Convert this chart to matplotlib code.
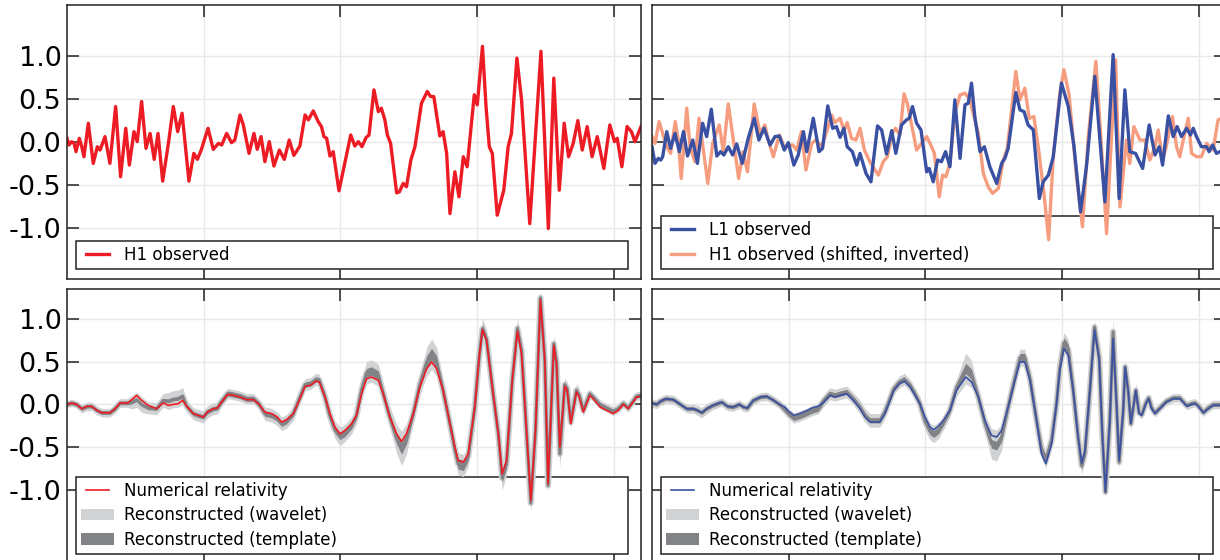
import numpy as np
import matplotlib
matplotlib.use('Agg')
import matplotlib.pyplot as plt

plt.rcParams['font.family'] = ['DejaVu Sans']
plt.rcParams['axes.unicode_minus'] = False
plt.rcParams['lines.solid_joinstyle'] = 'round'

# ---- H1 observed (top left), time in s, strain in 1e-21 ----
h1_t = [0.2500, 0.2507, 0.2517, 0.2526, 0.2533, 0.2545, 0.2554, 0.2562, 0.2578, 0.2596,
        0.2611, 0.2621, 0.2639, 0.2657, 0.2678, 0.2696, 0.2715, 0.2728, 0.2745, 0.2757,
        0.2773, 0.2789, 0.2804, 0.2819, 0.2833, 0.2850, 0.2871, 0.2889, 0.2905, 0.2921,
        0.2946, 0.2964, 0.2977, 0.2991, 0.3016, 0.3035, 0.3054, 0.3066, 0.3084, 0.3102,
        0.3114, 0.3133, 0.3145, 0.3166, 0.3184, 0.3196, 0.3210, 0.3224, 0.3240, 0.3257,
        0.3277, 0.3295, 0.3313, 0.3330, 0.3352, 0.3371, 0.3383, 0.3401, 0.3419, 0.3431,
        0.3440, 0.3450, 0.3462, 0.3474, 0.3495, 0.3511, 0.3538, 0.3553, 0.3566, 0.3579,
        0.3594, 0.3605, 0.3623, 0.3639, 0.3650, 0.3663, 0.3672, 0.3684, 0.3706, 0.3716,
        0.3730, 0.3742, 0.3758, 0.3773, 0.3797, 0.3818, 0.3830, 0.3842, 0.3864, 0.3876,
        0.3889, 0.3901, 0.3919, 0.3934, 0.3950, 0.3964, 0.3990, 0.4001, 0.4020, 0.4033,
        0.4045, 0.4056, 0.4074, 0.4098, 0.4114, 0.4126, 0.4146, 0.4163, 0.4193, 0.4234,
        0.4261, 0.4281, 0.4301, 0.4319, 0.4335, 0.4352, 0.4369, 0.4385, 0.4403, 0.4421,
        0.4440, 0.4464, 0.4486, 0.4503, 0.4513, 0.4530, 0.4549, 0.4565, 0.4578, 0.4600]
h1_v = [0.043, -0.035, 0.004, -0.016, -0.113, 0.043, -0.055, -0.172, 0.219, -0.250,
        -0.055, -0.094, 0.063, -0.250, 0.414, -0.406, 0.160, -0.270, 0.121, 0.004,
        0.473, -0.074, 0.100, -0.203, 0.100, -0.457, -0.016, 0.414, 0.121, 0.336,
        -0.457, -0.133, -0.203, -0.094, 0.160, -0.086, -0.016, -0.035, 0.100, -0.008,
        0.023, 0.316, 0.200, -0.133, 0.100, -0.086, 0.063, -0.230, 0.004, -0.281,
        -0.094, -0.203, 0.023, -0.156, -0.047, 0.316, 0.258, 0.363, 0.238, 0.180,
        0.063, 0.043, -0.164, -0.113, -0.570, -0.328, 0.082, -0.047, 0.004, -0.055,
        0.051, 0.082, 0.609, 0.355, 0.395, 0.258, 0.082, -0.016, -0.594, -0.582,
        -0.484, -0.523, -0.211, -0.055, 0.453, 0.590, 0.531, 0.531, 0.070, 0.121,
        -0.133, -0.836, -0.348, -0.640, -0.172, -0.289, 0.551, 0.434, 1.117, 0.414,
        -0.055, -0.133, -0.855, -0.563, -0.055, 0.100, 0.980, 0.492, -0.953, 1.059,
        -1.010, 0.746, -0.563, 0.219, -0.172, -0.016, 0.250, -0.094, 0.180, -0.172,
        0.063, -0.309, 0.199, 0.004, 0.043, -0.289, 0.180, 0.121, 0.004, 0.180]

# ---- L1 observed (top right) ----
l1_t = [0.2500, 0.2511, 0.2523, 0.2532, 0.2539, 0.2554, 0.2568, 0.2584, 0.2600, 0.2615,
        0.2630, 0.2649, 0.2666, 0.2685, 0.2700, 0.2717, 0.2737, 0.2751, 0.2763, 0.2779,
        0.2795, 0.2810, 0.2830, 0.2852, 0.2874, 0.2891, 0.2910, 0.2932, 0.2950, 0.2966,
        0.2984, 0.2999, 0.3019, 0.3035, 0.3054, 0.3066, 0.3090, 0.3111, 0.3124, 0.3143,
        0.3161, 0.3175, 0.3188, 0.3202, 0.3214, 0.3233, 0.3249, 0.3261, 0.3283, 0.3301,
        0.3325, 0.3340, 0.3358, 0.3377, 0.3392, 0.3413, 0.3431, 0.3441, 0.3453, 0.3468,
        0.3484, 0.3505, 0.3514, 0.3529, 0.3545, 0.3559, 0.3574, 0.3590, 0.3608, 0.3627,
        0.3645, 0.3657, 0.3669, 0.3681, 0.3700, 0.3716, 0.3736, 0.3761, 0.3779, 0.3791,
        0.3803, 0.3831, 0.3846, 0.3861, 0.3876, 0.3895, 0.3917, 0.3931, 0.3950, 0.3968,
        0.3998, 0.4023, 0.4044, 0.4068, 0.4090, 0.4120, 0.4157, 0.4187, 0.4209, 0.4230,
        0.4248, 0.4269, 0.4295, 0.4319, 0.4340, 0.4356, 0.4368, 0.4389, 0.4407, 0.4421,
        0.4437, 0.4456, 0.4470, 0.4480, 0.4492, 0.4510, 0.4529, 0.4538, 0.4551, 0.4565,
        0.4578, 0.4600]
l1_v = [-0.055, -0.250, -0.191, -0.211, -0.172, 0.121, -0.074, 0.100, -0.113, 0.121,
        -0.164, 0.023, -0.250, 0.219, 0.063, 0.383, -0.164, -0.113, -0.152, -0.055,
        -0.152, -0.023, -0.250, 0.043, 0.277, 0.023, 0.160, -0.035, 0.063, 0.070,
        -0.094, -0.008, -0.270, -0.152, 0.121, -0.113, 0.277, -0.113, -0.074, 0.422,
        0.160, 0.180, 0.055, 0.160, -0.055, -0.113, -0.270, -0.133, -0.367, -0.465,
        0.188, 0.141, -0.141, 0.133, -0.133, 0.199, 0.258, 0.277, 0.414, 0.219,
        0.141, -0.348, -0.309, -0.465, -0.211, -0.230, -0.113, -0.289, 0.492, -0.191,
        0.434, 0.453, 0.688, 0.297, -0.113, -0.055, -0.289, -0.484, -0.250, -0.191,
        -0.074, 0.578, 0.375, 0.355, 0.199, 0.141, -0.660, -0.465, -0.387, -0.172,
        0.688, 0.414, -0.055, -0.816, -0.270, 0.766, -0.700, 1.020, -0.660, 0.609,
        -0.113, -0.133, -0.309, 0.199, -0.152, -0.055, -0.270, 0.305, 0.063, 0.180,
        0.063, 0.160, 0.082, 0.160, 0.063, -0.055, -0.055, -0.113, -0.035, -0.133,
        -0.113, -0.090]

# ---- H1 observed, shifted and inverted (top right) ----
h1s_t = [0.2500, 0.2511, 0.2526, 0.2539, 0.2554, 0.2568, 0.2585, 0.2596, 0.2607, 0.2627,
         0.2639, 0.2657, 0.2672, 0.2688, 0.2704, 0.2722, 0.2746, 0.2761, 0.2779, 0.2801,
         0.2817, 0.2833, 0.2849, 0.2874, 0.2895, 0.2913, 0.2925, 0.2944, 0.2966, 0.2983,
         0.3015, 0.3029, 0.3047, 0.3063, 0.3084, 0.3100, 0.3121, 0.3139, 0.3157, 0.3169,
         0.3188, 0.3203, 0.3214, 0.3230, 0.3246, 0.3261, 0.3277, 0.3297, 0.3328, 0.3346,
         0.3361, 0.3379, 0.3391, 0.3407, 0.3422, 0.3434, 0.3450, 0.3468, 0.3484, 0.3505,
         0.3523, 0.3533, 0.3551, 0.3563, 0.3575, 0.3590, 0.3608, 0.3627, 0.3645, 0.3663,
         0.3678, 0.3694, 0.3712, 0.3730, 0.3746, 0.3767, 0.3785, 0.3800, 0.3819, 0.3831,
         0.3846, 0.3864, 0.3880, 0.3897, 0.3913, 0.3934, 0.3951, 0.3968, 0.3992, 0.4007,
         0.4026, 0.4053, 0.4075, 0.4096, 0.4124, 0.4145, 0.4163, 0.4181, 0.4196, 0.4212,
         0.4236, 0.4248, 0.4263, 0.4285, 0.4303, 0.4321, 0.4340, 0.4352, 0.4368, 0.4380,
         0.4404, 0.4419, 0.4431, 0.4441, 0.4462, 0.4474, 0.4492, 0.4510, 0.4529, 0.4553,
         0.4571, 0.4600]
h1s_v = [0.063, -0.016, 0.238, 0.100, -0.055, -0.133, 0.238, 0.023, -0.426, 0.395,
         -0.055, -0.230, 0.277, -0.094, -0.484, -0.016, 0.199, -0.113, 0.445, -0.055,
         -0.426, -0.113, -0.348, 0.445, 0.100, 0.199, 0.023, -0.172, 0.082, -0.055,
         -0.035, -0.094, 0.121, -0.328, -0.016, 0.023, -0.055, 0.121, 0.316, 0.227,
         0.277, 0.133, 0.227, 0.043, 0.023, 0.160, -0.094, -0.230, -0.387, -0.230,
         -0.172, 0.100, 0.160, 0.082, 0.563, 0.453, 0.199, -0.094, -0.023, 0.063,
         -0.055, -0.133, -0.640, -0.387, -0.406, -0.250, 0.336, 0.551, 0.570, 0.492,
         0.297, 0.100, -0.367, -0.523, -0.600, -0.543, -0.211, -0.074, 0.473, 0.824,
         0.492, 0.629, 0.277, 0.297, -0.055, -0.600, -1.140, -0.172, 0.570, 0.844,
         0.551, -0.406, -0.992, 0.063, 0.941, -0.094, -1.070, 0.063, 0.960, -0.758,
         0.023, -0.250, 0.180, 0.023, 0.023, -0.211, -0.055, 0.141, -0.211, -0.074,
         0.297, -0.055, -0.172, -0.016, 0.277, -0.133, -0.172, -0.172, -0.016, -0.094,
         0.258, 0.300]

# ---- numerical relativity + reconstructions, H1 (bottom left) ----
nrh_t = [0.2500, 0.2517, 0.2535, 0.2554, 0.2574, 0.2590, 0.2609, 0.2627, 0.2657, 0.2676,
         0.2694, 0.2721, 0.2737, 0.2755, 0.2773, 0.2797, 0.2828, 0.2852, 0.2871, 0.2889,
         0.2907, 0.2923, 0.2938, 0.2962, 0.2980, 0.2999, 0.3013, 0.3035, 0.3050, 0.3066,
         0.3088, 0.3108, 0.3133, 0.3157, 0.3182, 0.3203, 0.3224, 0.3249, 0.3269, 0.3285,
         0.3303, 0.3328, 0.3350, 0.3371, 0.3391, 0.3411, 0.3423, 0.3444, 0.3462, 0.3480,
         0.3499, 0.3517, 0.3541, 0.3559, 0.3578, 0.3596, 0.3614, 0.3639, 0.3657, 0.3681,
         0.3706, 0.3724, 0.3742, 0.3767, 0.3791, 0.3816, 0.3834, 0.3852, 0.3876, 0.3901,
         0.3919, 0.3931, 0.3950, 0.3968, 0.3992, 0.4008, 0.4020, 0.4035, 0.4059, 0.4078,
         0.4092, 0.4108, 0.4129, 0.4148, 0.4163, 0.4181, 0.4197, 0.4214, 0.4232, 0.4248,
         0.4260, 0.4281, 0.4291, 0.4303, 0.4321, 0.4330, 0.4343, 0.4364, 0.4374, 0.4389,
         0.4413, 0.4425, 0.4450, 0.4474, 0.4498, 0.4517, 0.4535, 0.4553, 0.4571, 0.4584,
         0.4600]
nrh_v = [0.000, 0.016, 0.000, -0.051, -0.023, -0.023, -0.070, -0.098, -0.098, -0.051,
         0.016, 0.016, 0.055, 0.105, 0.047, -0.012, -0.051, 0.016, -0.012, 0.000,
         0.008, 0.047, -0.023, -0.109, -0.129, -0.148, -0.090, -0.051, -0.043, 0.027,
         0.117, 0.105, 0.086, 0.055, 0.055, 0.000, -0.090, -0.109, -0.148, -0.207,
         -0.180, -0.109, 0.047, 0.211, 0.223, 0.273, 0.262, 0.086, -0.109, -0.266,
         -0.344, -0.305, -0.227, -0.129, 0.125, 0.300, 0.320, 0.281, 0.125, -0.148,
         -0.344, -0.434, -0.344, -0.109, 0.203, 0.418, 0.496, 0.418, 0.164, -0.227,
         -0.500, -0.656, -0.676, -0.578, -0.031, 0.555, 0.875, 0.750, 0.125, -0.344,
         -0.813, -0.656, 0.281, 0.859, 0.594, -0.305, -1.125, -0.305, 1.227, 0.516,
         -0.930, 0.691, 0.477, -0.500, 0.211, 0.164, -0.227, 0.145, 0.086, -0.090,
         0.105, 0.066, -0.031, -0.070, -0.109, -0.070, 0.000, -0.051, 0.027, 0.086,
         0.094]
# offset of the grey bands from the NR curve, and half widths of the bands
nrh_shift = [0, 0, 0, 0, 0, 0, 0, 0, 0, 0,
             0, 0, -0.03, -0.05, -0.05, -0.03, 0, 0.03, 0.05, 0.06,
             0.06, 0.05, 0, 0, 0, 0, 0, 0, 0, 0.01,
             0.01, 0.01, 0.01, 0.01, 0.01, 0, -0.02, -0.02, -0.02, -0.02,
             -0.02, 0, 0.02, 0.02, 0.02, 0.02, 0.02, 0, -0.03, -0.03,
             -0.03, -0.03, -0.02, 0, 0.05, 0.07, 0.07, 0.06, 0, 0,
             -0.06, -0.08, -0.06, 0, 0.03, 0.08, 0.09, 0.08, 0, 0,
             -0.03, -0.04, -0.04, -0.03, 0, 0.01, 0.01, 0.01, 0, 0,
             -0.05, -0.04, 0, 0.03, 0.03, 0, -0.03, 0, 0.02, 0,
             -0.02, 0.02, 0.02, -0.08, 0.02, 0.02, 0.02, 0.02, 0.02, 0.02,
             0.02, 0.02, 0.03, 0.03, 0.03, 0.02, 0.01, 0.01, 0.01, 0.01,
             0.01]
nrh_wav = [0.04, 0.04, 0.04, 0.05, 0.05, 0.05, 0.05, 0.05, 0.05, 0.05,
           0.05, 0.05, 0.08, 0.09, 0.09, 0.07, 0.07, 0.08, 0.10, 0.10,
           0.10, 0.10, 0.07, 0.07, 0.07, 0.07, 0.07, 0.07, 0.07, 0.06,
           0.06, 0.06, 0.06, 0.06, 0.06, 0.06, 0.08, 0.08, 0.08, 0.08,
           0.08, 0.08, 0.07, 0.07, 0.07, 0.07, 0.07, 0.08, 0.10, 0.10,
           0.11, 0.10, 0.10, 0.10, 0.12, 0.13, 0.13, 0.13, 0.12, 0.12,
           0.17, 0.20, 0.18, 0.10, 0.12, 0.17, 0.18, 0.17, 0.10, 0.10,
           0.12, 0.13, 0.13, 0.12, 0.08, 0.10, 0.12, 0.12, 0.08, 0.10,
           0.14, 0.13, 0.08, 0.12, 0.11, 0.08, 0.10, 0.08, 0.08, 0.08,
           0.08, 0.10, 0.10, 0.16, 0.08, 0.08, 0.08, 0.08, 0.08, 0.07,
           0.05, 0.05, 0.05, 0.05, 0.05, 0.05, 0.05, 0.05, 0.05, 0.05,
           0.05]
nrh_tpl = [0.02, 0.02, 0.02, 0.02, 0.02, 0.02, 0.02, 0.02, 0.02, 0.02,
           0.02, 0.02, 0.02, 0.02, 0.02, 0.02, 0.02, 0.02, 0.02, 0.02,
           0.02, 0.02, 0.025, 0.025, 0.025, 0.025, 0.025, 0.025, 0.025, 0.03,
           0.03, 0.03, 0.03, 0.03, 0.03, 0.03, 0.03, 0.03, 0.03, 0.03,
           0.03, 0.03, 0.03, 0.03, 0.03, 0.03, 0.03, 0.03, 0.04, 0.04,
           0.04, 0.04, 0.04, 0.04, 0.05, 0.05, 0.05, 0.05, 0.04, 0.04,
           0.06, 0.07, 0.06, 0.04, 0.05, 0.07, 0.07, 0.07, 0.04, 0.04,
           0.05, 0.06, 0.06, 0.05, 0.04, 0.05, 0.05, 0.05, 0.04, 0.04,
           0.05, 0.05, 0.04, 0.05, 0.05, 0.04, 0.04, 0.03, 0.04, 0.03,
           0.04, 0.04, 0.04, 0.05, 0.03, 0.03, 0.03, 0.03, 0.03, 0.03,
           0.02, 0.02, 0.02, 0.02, 0.02, 0.02, 0.02, 0.02, 0.02, 0.02,
           0.02]

# ---- numerical relativity + reconstructions, L1 (bottom right) ----
nrl_t = [0.2500, 0.2517, 0.2532, 0.2551, 0.2578, 0.2596, 0.2609, 0.2627, 0.2651, 0.2666,
         0.2682, 0.2700, 0.2722, 0.2755, 0.2776, 0.2797, 0.2819, 0.2834, 0.2849, 0.2871,
         0.2897, 0.2919, 0.2941, 0.2966, 0.2986, 0.2999, 0.3019, 0.3039, 0.3063, 0.3088,
         0.3108, 0.3129, 0.3151, 0.3169, 0.3188, 0.3212, 0.3236, 0.3261, 0.3279, 0.3297,
         0.3316, 0.3334, 0.3352, 0.3364, 0.3385, 0.3405, 0.3423, 0.3444, 0.3462, 0.3480,
         0.3499, 0.3517, 0.3531, 0.3548, 0.3566, 0.3590, 0.3614, 0.3648, 0.3669, 0.3694,
         0.3718, 0.3742, 0.3761, 0.3779, 0.3803, 0.3828, 0.3846, 0.3864, 0.3883, 0.3907,
         0.3925, 0.3941, 0.3962, 0.3980, 0.3992, 0.4007, 0.4023, 0.4041, 0.4059, 0.4072,
         0.4084, 0.4102, 0.4119, 0.4136, 0.4148, 0.4159, 0.4175, 0.4187, 0.4200, 0.4209,
         0.4224, 0.4231, 0.4242, 0.4252, 0.4270, 0.4282, 0.4292, 0.4307, 0.4317, 0.4328,
         0.4340, 0.4358, 0.4382, 0.4407, 0.4431, 0.4456, 0.4474, 0.4486, 0.4498, 0.4517,
         0.4535, 0.4553, 0.4578, 0.4600]
nrl_v = [0.016, 0.000, 0.039, 0.066, 0.055, 0.016, -0.012, -0.051, -0.051, -0.070,
         -0.098, -0.051, -0.012, 0.027, -0.023, -0.031, 0.000, -0.031, -0.043, 0.047,
         0.086, 0.094, 0.055, 0.000, -0.031, -0.078, -0.129, -0.109, -0.078, -0.039,
         -0.023, 0.027, 0.105, 0.086, 0.105, 0.125, 0.047, -0.051, -0.148, -0.207,
         -0.207, -0.207, -0.109, -0.012, 0.164, 0.242, 0.273, 0.203, 0.105, 0.008,
         -0.148, -0.266, -0.297, -0.254, -0.188, -0.070, 0.164, 0.320, 0.262, 0.086,
         -0.188, -0.363, -0.383, -0.305, -0.031, 0.281, 0.496, 0.496, 0.281, -0.188,
         -0.578, -0.695, -0.461, 0.008, 0.398, 0.652, 0.574, 0.164, -0.383, -0.688,
         -0.539, 0.164, 0.875, 0.516, -0.383, -1.027, -0.188, 0.770, -0.031, -0.656,
         -0.070, 0.438, 0.164, -0.227, 0.164, -0.109, -0.129, 0.008, 0.066, -0.051,
         -0.109, -0.051, 0.027, 0.066, 0.066, -0.023, 0.000, 0.008, -0.023, -0.102,
         -0.051, -0.012, -0.012, -0.005]
nrl_shift = [0, 0, 0, 0, 0, 0, 0, 0, 0, 0,
             0, 0, 0, 0, 0, 0, 0, 0, 0, 0,
             0, 0, 0, 0, -0.03, -0.03, -0.03, -0.03, -0.03, -0.03,
             -0.03, 0.02, 0.02, 0.02, 0.02, 0.02, 0.02, 0.02, 0.02, 0.02,
             0.02, 0.02, 0.02, 0.02, 0.02, 0.02, 0.02, 0.02, 0.02, 0,
             -0.05, -0.05, -0.05, -0.05, -0.03, 0, 0.03, 0.10, 0.09, 0,
             -0.03, -0.10, -0.10, -0.08, 0, 0.03, 0.05, 0.05, 0.02, 0,
             0.05, 0.05, 0.04, 0, 0.03, 0.07, 0.07, 0, 0, -0.03,
             -0.03, 0, 0.03, 0.03, 0, 0, 0, 0.08, 0, -0.02,
             0, 0, 0, 0, 0, 0.01, 0.01, 0.01, 0.01, 0.01,
             0.01, 0.01, 0.01, 0.01, 0.01, 0.01, 0.01, 0.01, 0.01, 0.01,
             0.01, 0.01, 0.01, 0.01]
nrl_wav = [0.05, 0.05, 0.05, 0.05, 0.05, 0.05, 0.05, 0.05, 0.05, 0.06,
           0.06, 0.06, 0.05, 0.05, 0.05, 0.05, 0.05, 0.05, 0.05, 0.05,
           0.05, 0.05, 0.05, 0.05, 0.06, 0.06, 0.06, 0.06, 0.06, 0.06,
           0.06, 0.07, 0.07, 0.07, 0.07, 0.07, 0.07, 0.08, 0.08, 0.08,
           0.08, 0.08, 0.08, 0.08, 0.07, 0.07, 0.07, 0.07, 0.07, 0.08,
           0.10, 0.10, 0.10, 0.10, 0.08, 0.08, 0.10, 0.18, 0.16, 0.08,
           0.10, 0.18, 0.18, 0.15, 0.08, 0.08, 0.10, 0.10, 0.08, 0.08,
           0.10, 0.10, 0.10, 0.08, 0.08, 0.12, 0.12, 0.08, 0.08, 0.10,
           0.10, 0.08, 0.08, 0.08, 0.08, 0.06, 0.08, 0.14, 0.08, 0.08,
           0.08, 0.08, 0.08, 0.08, 0.08, 0.05, 0.05, 0.05, 0.05, 0.05,
           0.05, 0.05, 0.05, 0.05, 0.05, 0.05, 0.05, 0.05, 0.05, 0.05,
           0.05, 0.05, 0.05, 0.05]
nrl_tpl = [0.02, 0.02, 0.02, 0.02, 0.02, 0.02, 0.02, 0.02, 0.02, 0.02,
           0.02, 0.02, 0.02, 0.02, 0.02, 0.02, 0.02, 0.02, 0.02, 0.02,
           0.02, 0.02, 0.02, 0.02, 0.03, 0.03, 0.03, 0.03, 0.03, 0.03,
           0.03, 0.03, 0.03, 0.03, 0.03, 0.03, 0.03, 0.03, 0.03, 0.03,
           0.03, 0.03, 0.03, 0.03, 0.03, 0.03, 0.03, 0.03, 0.03, 0.03,
           0.04, 0.04, 0.04, 0.04, 0.03, 0.03, 0.04, 0.06, 0.06, 0.03,
           0.03, 0.05, 0.05, 0.05, 0.03, 0.03, 0.05, 0.05, 0.03, 0.03,
           0.05, 0.05, 0.05, 0.03, 0.03, 0.06, 0.06, 0.03, 0.03, 0.04,
           0.04, 0.03, 0.04, 0.04, 0.03, 0.03, 0.03, 0.05, 0.03, 0.03,
           0.03, 0.03, 0.03, 0.03, 0.03, 0.02, 0.02, 0.02, 0.02, 0.02,
           0.02, 0.02, 0.02, 0.02, 0.02, 0.02, 0.02, 0.02, 0.02, 0.02,
           0.02, 0.02, 0.02, 0.02]

red = '#ed1c24'
blue = '#3a51a3'
salmon = '#f59d7e'
light_grey = '#d1d2d4'
dark_grey = '#828386'


def style(ax, ylim, left_labels):
    ax.set_xlim(0.25, 0.46)
    ax.set_ylim(*ylim)
    ax.set_xticks([0.30, 0.35, 0.40, 0.45])
    ax.set_yticks([-1.0, -0.5, 0.0, 0.5, 1.0])
    ax.set_yticklabels(['-1.0', '-0.5', '0.0', '0.5', '1.0'])
    ax.tick_params(direction='in', length=8.6, width=1.1, top=True, right=True,
                   labelbottom=False, labelleft=left_labels, labelsize=19.5, pad=4,
                   color='#222222', labelcolor='black')
    ax.grid(True, color='#e8e8e8', lw=1.0)
    ax.set_axisbelow(True)
    for s in ax.spines.values():
        s.set_linewidth(1.1)
        s.set_color('#222222')


def add_legend(ax, handles, labels, box):
    leg = ax.legend(handles, labels, loc='lower left', bbox_to_anchor=box, mode='expand',
                    borderaxespad=0, fancybox=False, edgecolor='#222222', framealpha=1,
                    fontsize=12, numpoints=2, handlelength=2.0, handletextpad=0.6,
                    borderpad=0.3, labelspacing=0.4)
    leg.get_frame().set_linewidth(1.1)
    leg.set_zorder(1.5)
    return leg


def nr_panel(ax, t, v, shift, wav, tpl, color):
    t = np.array(t)
    c = np.array(v) + np.array(shift)
    # bands: vertical spread plus a stroke so steep parts keep some width
    w1 = ax.fill_between(t, c - np.array(wav), c + np.array(wav), color=light_grey, lw=0, zorder=1.6)
    ax.plot(t, c, color=light_grey, lw=4.5, zorder=1.6)
    w2 = ax.fill_between(t, c - np.array(tpl), c + np.array(tpl), color=dark_grey, lw=0, zorder=1.7)
    ax.plot(t, c, color=dark_grey, lw=2.2, zorder=1.7)
    ln, = ax.plot(t, v, color=color, lw=1.2, zorder=2)
    add_legend(ax, [ln, w1, w2],
               ['Numerical relativity', 'Reconstructed (wavelet)', 'Reconstructed (template)'],
               (0.0157, 0.04, 0.9613, 0.28))


fig = plt.figure(figsize=(12.2, 5.6), dpi=100)
ax_tl = fig.add_axes([0.05492, 0.50179, 0.47049, 0.48929])
ax_tr = fig.add_axes([0.53443, 0.50179, 0.47049, 0.48929])
ax_bl = fig.add_axes([0.05492, -0.00893, 0.47049, 0.49286])
ax_br = fig.add_axes([0.53443, -0.00893, 0.47049, 0.49286])

# top left: H1 observed
ln_h1, = ax_tl.plot(h1_t, h1_v, color=red, lw=2.4, zorder=2)
style(ax_tl, (-1.6, 1.6), True)
add_legend(ax_tl, [ln_h1], ['H1 observed'], (0.0157, 0.0365, 0.9613, 0.09))

# top right: L1 observed with shifted / inverted H1
ln_h1s, = ax_tr.plot(h1s_t, h1s_v, color=salmon, lw=2.4, zorder=2)
ln_l1, = ax_tr.plot(l1_t, l1_v, color=blue, lw=2.4, zorder=2.1)
style(ax_tr, (-1.6, 1.6), False)
add_legend(ax_tr, [ln_l1, ln_h1s], ['L1 observed', 'H1 observed (shifted, inverted)'],
           (0.0157, 0.0365, 0.9613, 0.2))

# bottom: numerical relativity vs reconstructions
nr_panel(ax_bl, nrh_t, nrh_v, nrh_shift, nrh_wav, nrh_tpl, red)
style(ax_bl, (-1.88, 1.35), True)
nr_panel(ax_br, nrl_t, nrl_v, nrl_shift, nrl_wav, nrl_tpl, blue)
style(ax_br, (-1.88, 1.35), False)

plt.savefig('out.png', dpi=100)
